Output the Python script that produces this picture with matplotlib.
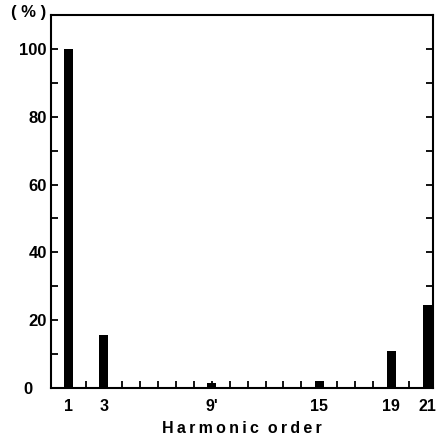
import matplotlib
matplotlib.use("Agg")
import matplotlib.pyplot as plt
from matplotlib.ticker import MultipleLocator

harmonics = [1, 3, 9, 15, 19, 21]
percent = [100, 15.5, 1.5, 2.0, 10.8, 24.5]
xtick_labels = ["1", "3", "9'", "15", "19", "21"]
yticks = [0, 20, 40, 60, 80, 100]
ytick_labels = ["0   ", "20", "40", "60", "80", "100"]

plt.rcParams['font.family'] = ['Liberation Sans', 'DejaVu Sans']

fig = plt.figure(figsize=(4.41, 4.42), dpi=100)
ax = fig.add_axes([51/441, 1 - 388/442, (433 - 51)/441, (388 - 15)/442])

ax.bar(harmonics, percent, width=0.5, color='black')

ax.set_xlim(0.05, 21.33)
ax.set_ylim(0, 110)

ax.set_yticks(yticks)
ax.set_yticklabels(ytick_labels, fontsize=12, fontweight='bold')
ax.yaxis.set_minor_locator(MultipleLocator(10))
ax.tick_params(axis='y', which='both', direction='in', left=True, right=True,
               length=5, width=1.3, pad=3)

ax.set_xticks(harmonics)
ax.set_xticklabels(xtick_labels, fontsize=11.5, fontweight='bold')
ax.set_xticks(range(2, 21), minor=True)
ax.tick_params(axis='x', which='both', direction='in', bottom=True, top=False,
               length=5, width=1.3, pad=8)

for s in ax.spines.values():
    s.set_linewidth(1.5)

ax.set_xlabel("H\u2009a\u2009r\u2009m\u2009o\u2009n\u2009i\u2009c  o\u2009r\u2009d\u2009e\u2009r",
              fontsize=11.5, fontweight='bold', labelpad=5)
fig.text(29/441, 1 - 13/442, "( % )", fontsize=12, fontweight='bold',
         ha='center', va='center')

fig.savefig("out.png", dpi=100)
